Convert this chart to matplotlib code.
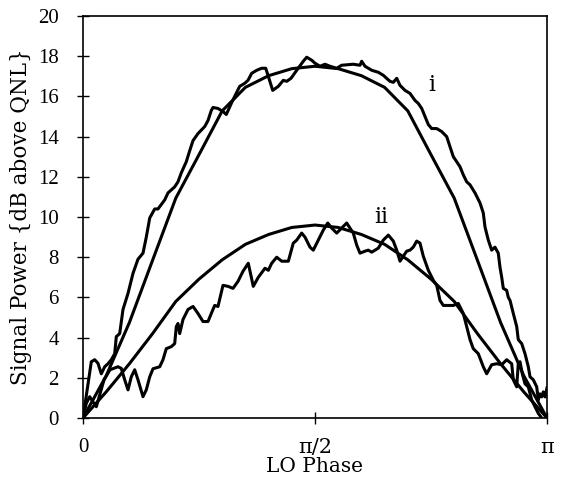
import numpy as np
import matplotlib
matplotlib.use("Agg")
import matplotlib.pyplot as plt

# ---- data (phase in units of pi, power in dB above QNL) ----
fit_phase_pi = [k / 20 for k in range(21)]
fit_i = [0, 2.1, 4.75, 7.85, 10.94, 13.1, 15.28, 16.45, 17.03, 17.38, 17.5,
         17.38, 17.03, 16.45, 15.28, 13.1, 10.94, 7.85, 4.75, 2.1, 0]
fit_ii = [0, 1.3, 2.7, 4.2, 5.8, 6.91, 7.87, 8.64, 9.13, 9.48, 9.6,
          9.48, 9.13, 8.64, 7.87, 6.91, 5.8, 4.2, 2.7, 1.3, 0]

meas_i_phase_pi = [0, 0.0179, 0.0252, 0.0323, 0.0394, 0.0468, 0.0539, 0.0610, 0.0683, 0.0718,
                   0.0791, 0.0862, 0.0970, 0.1078, 0.1185, 0.1293, 0.1364, 0.1438, 0.1545, 0.1616,
                   0.1761, 0.1832, 0.1976, 0.2047, 0.2119, 0.2226, 0.2300, 0.2371, 0.2478, 0.2623,
                   0.2694, 0.2765, 0.2802, 0.2909, 0.3017, 0.3088, 0.3196, 0.3269, 0.3377, 0.3485,
                   0.3556, 0.3636, 0.3744, 0.3851, 0.3938, 0.3994, 0.4088, 0.4209, 0.4317, 0.4390,
                   0.4483, 0.4606, 0.4748, 0.4821, 0.4929, 0.5000, 0.5108, 0.5216, 0.5323, 0.5468,
                   0.5575, 0.5825, 0.5970, 0.6006, 0.6078, 0.6222, 0.6364, 0.6472, 0.6616, 0.6688,
                   0.6761, 0.6832, 0.6940, 0.7047, 0.7155, 0.7226, 0.7300, 0.7371, 0.7442, 0.7515,
                   0.7623, 0.7731, 0.7838, 0.7909, 0.7981, 0.8054, 0.8125, 0.8196, 0.8269, 0.8341,
                   0.8448, 0.8556, 0.8627, 0.8664, 0.8735, 0.8808, 0.8879, 0.8950, 0.8987, 0.9024,
                   0.9058, 0.9131, 0.9166, 0.9203, 0.9274, 0.9347, 0.9381, 0.9455, 0.9526, 0.9597,
                   0.9634, 0.9705, 0.9778, 0.9813, 0.9849, 0.9886, 0.9920, 0.9957, 1.0]
meas_i = [0, 2.8, 2.9, 2.72, 2.2, 2.55, 2.7, 2.9, 3.2, 4.05,
          4.2, 5.4, 6.2, 7.2, 7.9, 8.2, 9.0, 9.95, 10.4, 10.4,
          10.85, 11.2, 11.5, 11.75, 12.2, 12.75, 13.3, 13.8, 14.15, 14.5,
          14.8, 15.3, 15.45, 15.4, 15.25, 15.1, 15.65, 16.0, 16.5, 16.65,
          16.8, 17.15, 17.3, 17.4, 17.4, 17.0, 16.3, 16.5, 16.8, 16.75,
          16.9, 17.3, 17.75, 17.95, 17.8, 17.65, 17.5, 17.6, 17.5, 17.4,
          17.55, 17.6, 17.55, 17.75, 17.5, 17.3, 17.2, 17.05, 16.75, 16.7,
          16.9, 16.55, 16.3, 16.15, 15.8, 15.65, 15.4, 15.0, 14.6, 14.4,
          14.4, 14.25, 14.0, 13.5, 13.0, 12.75, 12.5, 12.1, 11.75, 11.6,
          11.2, 10.7, 10.2, 9.5, 8.85, 8.35, 8.5, 8.2, 7.5, 7.0,
          6.45, 6.35, 6.0, 5.85, 5.2, 4.55, 3.9, 3.7, 3.2, 2.55,
          2.05, 1.9, 1.55, 0.9, 1.2, 1.05, 1.3, 1.05, 1.5]

meas_ii_phase_pi = [0, 0.0071, 0.0144, 0.0216, 0.0287, 0.0453, 0.0582, 0.0754, 0.0825, 0.0899,
                    0.0970, 0.1041, 0.1114, 0.1185, 0.1293, 0.1364, 0.1438, 0.1509, 0.1653, 0.1724,
                    0.1795, 0.1903, 0.1976, 0.2011, 0.2047, 0.2084, 0.2155, 0.2263, 0.2371, 0.2478,
                    0.2586, 0.2694, 0.2765, 0.2838, 0.2909, 0.3017, 0.3125, 0.3233, 0.3341, 0.3448,
                    0.3562, 0.3670, 0.3778, 0.3922, 0.3994, 0.4067, 0.4175, 0.4282, 0.4425, 0.4532,
                    0.4606, 0.4713, 0.4784, 0.4892, 0.4963, 0.5071, 0.5179, 0.5274, 0.5360, 0.5468,
                    0.5575, 0.5683, 0.5754, 0.5825, 0.5899, 0.5970, 0.6078, 0.6149, 0.6222, 0.6293,
                    0.6364, 0.6472, 0.6580, 0.6688, 0.6761, 0.6832, 0.6903, 0.6976, 0.7047, 0.7118,
                    0.7192, 0.7263, 0.7334, 0.7442, 0.7550, 0.7623, 0.7694, 0.7765, 0.7873, 0.7981,
                    0.8088, 0.8196, 0.8269, 0.8341, 0.8411, 0.8519, 0.8627, 0.8700, 0.8808, 0.8916,
                    0.9024, 0.9131, 0.9239, 0.9274, 0.9347, 0.9381, 0.9418, 0.9468, 0.9526, 0.9597,
                    0.9670, 0.9741, 0.9813, 0.9886]
meas_ii = [0, 0.73, 1.06, 0.8, 0.56, 1.9, 2.4, 2.55, 2.47, 1.9,
           1.4, 2.05, 2.4, 1.9, 1.06, 1.4, 2.05, 2.45, 2.55, 2.9,
           3.45, 3.55, 3.7, 4.55, 4.7, 4.2, 4.9, 5.4, 5.55, 5.2,
           4.8, 4.8, 5.2, 5.6, 5.55, 6.6, 6.55, 6.45, 6.8, 7.3,
           7.7, 6.55, 7.0, 7.45, 7.35, 7.7, 8.0, 7.8, 7.8, 8.7,
           8.85, 9.2, 9.0, 8.5, 8.35, 8.85, 9.35, 9.7, 9.45, 9.2,
           9.45, 9.7, 9.45, 9.2, 8.6, 8.2, 8.3, 8.35, 8.25, 8.35,
           8.45, 8.85, 9.1, 8.8, 8.35, 7.8, 8.05, 8.3, 8.35, 8.5,
           8.8, 8.7, 8.05, 7.35, 6.85, 6.6, 5.85, 5.6, 5.6, 5.6,
           5.7, 5.2, 4.55, 3.9, 3.45, 3.2, 2.55, 2.2, 2.65, 2.7,
           2.65, 2.9, 2.7, 1.9, 1.55, 2.7, 2.8, 2.2, 1.7, 1.55,
           0.9, 0.56, 0.23, 0]

curve_labels = ["i", "ii"]
label_pos_pi = [0.7515, 0.6437]
label_pos_db = [16.57, 10.0]

y_ticks = list(range(0, 21, 2))
x_tick_labels = ["0", "\u03c0/2", "\u03c0"]

# ---- figure ----
plt.rcParams['font.family'] = ['Liberation Serif', 'DejaVu Serif']
fig = plt.figure(figsize=(5.64, 4.91), dpi=100)
ax = fig.add_axes([83 / 564, 1 - 418 / 491, 464 / 564, 402 / 491])

lw = 2.2
ax.plot(np.array(fit_phase_pi) * np.pi, fit_i, color='black', lw=lw, solid_joinstyle='round')
ax.plot(np.array(fit_phase_pi) * np.pi, fit_ii, color='black', lw=lw, solid_joinstyle='round')
ax.plot(np.array(meas_i_phase_pi) * np.pi, meas_i, color='black', lw=lw, solid_joinstyle='round')
ax.plot(np.array(meas_ii_phase_pi) * np.pi, meas_ii, color='black', lw=lw, solid_joinstyle='round')

for lab, xp, yp in zip(curve_labels, label_pos_pi, label_pos_db):
    ax.text(xp * np.pi, yp, lab, fontsize=16, ha='center', va='center', family='DejaVu Serif')

ax.set_xlim(0, np.pi)
ax.set_ylim(0, 20)
ax.set_yticks(y_ticks)
ax.set_xticks([0, np.pi / 2, np.pi])
ax.set_xticklabels(x_tick_labels)
ax.tick_params(axis='both', direction='inout', length=9, width=1, labelsize=15)
ax.tick_params(axis='y', pad=13)
ax.tick_params(axis='x', pad=10)
for t in ax.get_xticklabels()[1:]:
    t.set_fontfamily('DejaVu Serif')
    t.set_fontsize(15)
for s in ax.spines.values():
    s.set_linewidth(1.2)

ax.set_xlabel("LO Phase", fontsize=14.5, labelpad=0, family='DejaVu Serif')
ax.set_ylabel("Signal Power {dB above QNL}", fontsize=15.5, labelpad=4, family='DejaVu Serif')

fig.savefig("out.png", dpi=100)
